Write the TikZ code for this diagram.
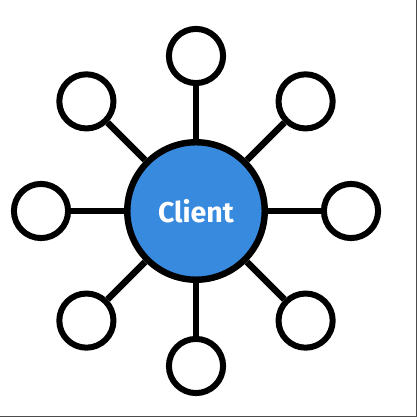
\documentclass[tikz,border=0pt]{standalone}
\usepackage{fontspec}
\setsansfont{Fira Sans}
\usepackage{xcolor}
\usepackage{tikz}
\usetikzlibrary{positioning,%
  calc%
}

\definecolor{clientblue}{RGB}{56,138,222}

\tikzset{
    hub/.style={circle, draw=black, line width=4.4pt, fill=clientblue,
        minimum size=3.3cm, inner sep=0pt,
        font=\sffamily\bfseries\fontsize{19.5}{22}\selectfont, text=white},
    peer/.style={circle, draw=black, line width=4.1pt, fill=white,
        minimum size=1.3cm, inner sep=0pt},
    spoke/.style={line width=4.4pt}
}

\begin{document}
\begin{tikzpicture}[x=0.024cm,y=0.024cm]
            \useasboundingbox (0,0) rectangle (417,417);
            \fill[white] (0,0) rectangle (417,417);
            
            % screenshot edge
            \draw[line width=0.7pt,gray!60!black] (416.5,417) -- (416.5,0.5) -- (0,0.5);
            
            \node[hub] (client) at (196,206) {Client};
            \foreach \a in {0,45,...,315} {
                \node[peer] (peer\a) at ($(client)+(\a:155)$) {};
                \draw[spoke] (client) -- (peer\a);
            }
        \end{tikzpicture}
\end{document}
